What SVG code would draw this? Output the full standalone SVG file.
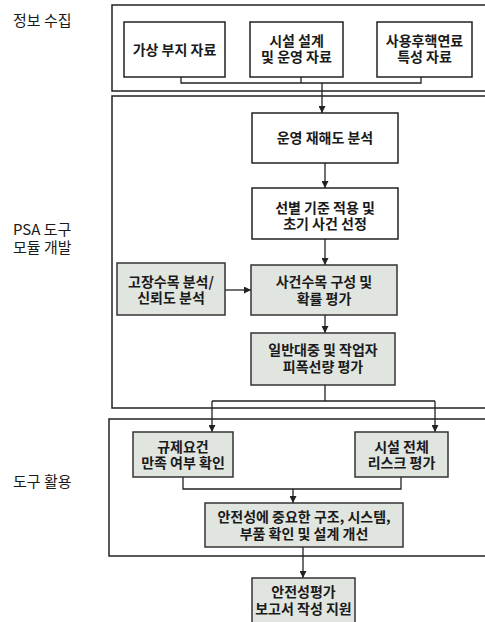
<svg xmlns="http://www.w3.org/2000/svg" width="485" height="622" viewBox="0 0 485 622">
<style>
.frame{fill:none;stroke:#222;stroke-width:1.5}
.box{fill:#fff;stroke:#222;stroke-width:1.5}
.gbox{fill:#e1e5e0;stroke:#333;stroke-width:1.5}
.line{fill:none;stroke:#222;stroke-width:1.3}
.t{font-family:"Noto Sans CJK KR","Noto Sans",sans-serif;font-size:14px;font-weight:700;fill:#1a1a1a;text-anchor:middle}
.lbl{font-family:"Noto Sans CJK KR","Noto Sans",sans-serif;font-size:15px;fill:#1a1a1a}
</style>
<defs>
<marker id="ah" viewBox="0 0 10 10" refX="10" refY="5" markerWidth="7" markerHeight="7" markerUnits="userSpaceOnUse" orient="auto">
<path d="M0,0 L10,5 L0,10 z" fill="#222"/>
</marker>
</defs>
<rect width="485" height="622" fill="#fff"/>
<g id="stages">
<rect class="frame" x="112" y="5" width="390" height="86"/>
<rect class="frame" x="112" y="96" width="390" height="312"/>
<rect class="frame" x="109" y="419" width="393" height="137"/>
<text class="lbl" x="13" y="26">정보 수집</text>
<text class="lbl" x="13" y="235">PSA 도구<tspan x="13" dy="18">모듈 개발</tspan></text>
<text class="lbl" x="13" y="487">도구 활용</text>
</g>
<g id="connectors">
<path class="line" d="M181,77 V83 H421 V77 M301,77 V83"/>
<path class="line" d="M322,83 V113" marker-end="url(#ah)"/>
<path class="line" d="M325,163 V188" marker-end="url(#ah)"/>
<path class="line" d="M325,239 V265" marker-end="url(#ah)"/>
<path class="line" d="M225,290 H251" marker-end="url(#ah)"/>
<path class="line" d="M325,315 V333" marker-end="url(#ah)"/>
<path class="line" d="M325,385 V401 M212,401 H435"/>
<path class="line" d="M212,401 V432" marker-end="url(#ah)"/>
<path class="line" d="M435,401 V432" marker-end="url(#ah)"/>
<path class="line" d="M183,477 V489 H401 V477"/>
<path class="line" d="M293,489 V503" marker-end="url(#ah)"/>
<path class="line" d="M303,547 V578" marker-end="url(#ah)"/>
</g>
<g id="n1">
<rect class="box" x="124" y="22" width="101" height="55"/>
<text class="t" x="174.5" y="55">가상 부지 자료</text>
</g>
<g id="n2">
<rect class="box" x="250" y="22" width="93" height="55"/>
<text class="t" x="296.5" y="46">시설 설계<tspan x="296.5" dy="16">및 운영 자료</tspan></text>
</g>
<g id="n3">
<rect class="box" x="377" y="22" width="95" height="55"/>
<text class="t" x="424.5" y="46">사용후핵연료<tspan x="424.5" dy="16">특성 자료</tspan></text>
</g>
<g id="n4">
<rect class="box" x="252" y="113" width="146" height="50"/>
<text class="t" x="325" y="143">운영 재해도 분석</text>
</g>
<g id="n5">
<rect class="box" x="252" y="188" width="146" height="51"/>
<text class="t" x="325" y="213">선별 기준 적용 및<tspan x="325" dy="16">초기 사건 선정</tspan></text>
</g>
<g id="n6">
<rect class="gbox" x="117" y="263" width="108" height="52"/>
<text class="t" x="171" y="287">고장수목 분석/<tspan x="171" dy="16">신뢰도 분석</tspan></text>
</g>
<g id="n7">
<rect class="gbox" x="251" y="265" width="146" height="50"/>
<text class="t" x="324" y="287">사건수목 구성 및<tspan x="324" dy="17">확률 평가</tspan></text>
</g>
<g id="n8">
<rect class="gbox" x="251" y="333" width="144" height="52"/>
<text class="t" x="323" y="355">일반대중 및 작업자<tspan x="323" dy="17">피폭선량 평가</tspan></text>
</g>
<g id="n9">
<rect class="gbox" x="133" y="432" width="100" height="45"/>
<text class="t" x="183" y="452">규제요건<tspan x="183" dy="16">만족 여부 확인</tspan></text>
</g>
<g id="n10">
<rect class="gbox" x="355" y="432" width="93" height="45"/>
<text class="t" x="401.5" y="452">시설 전체<tspan x="401.5" dy="16">리스크 평가</tspan></text>
</g>
<g id="n11">
<rect class="gbox" x="205" y="503" width="198" height="44"/>
<text class="t" x="304" y="522">안전성에 중요한 구조, 시스템,<tspan x="304" dy="17">부품 확인 및 설계 개선</tspan></text>
</g>
<g id="n12">
<rect class="gbox" x="252" y="578" width="103" height="50"/>
<text class="t" x="303.5" y="597">안전성평가<tspan x="303.5" dy="17">보고서 작성 지원</tspan></text>
</g>
</svg>
